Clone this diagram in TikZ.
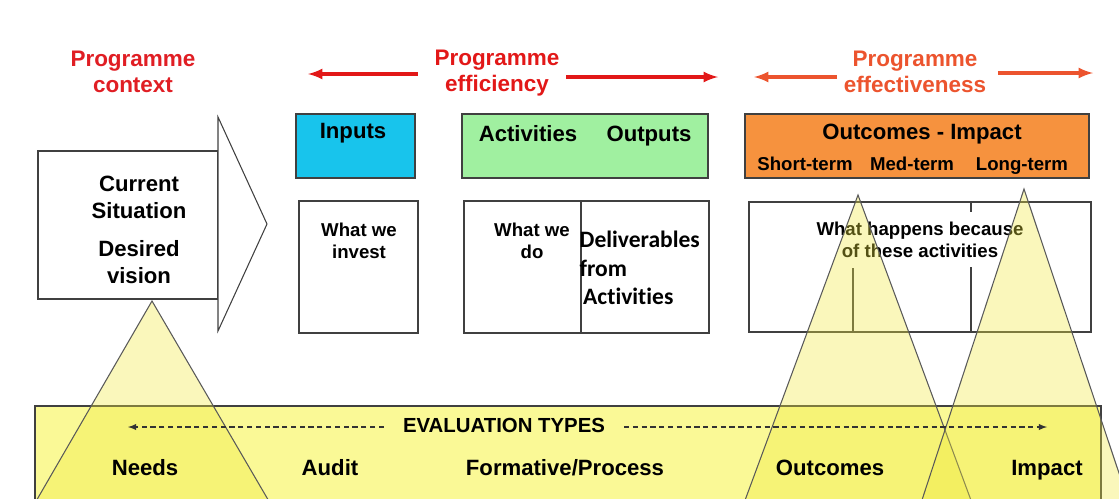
\documentclass[tikz,border=0pt]{standalone}
\usepackage{fontspec}
\setmainfont{Liberation Sans}
\newfontfamily\carlito[Ligatures=NoCommon]{Carlito}

\definecolor{ctxred}{RGB}{224,30,36}
\definecolor{effred}{RGB}{226,24,24}
\definecolor{effvred}{RGB}{236,84,46}
\definecolor{inblue}{RGB}{24,196,236}
\definecolor{actgreen}{RGB}{160,240,160}
\definecolor{outorange}{RGB}{246,146,62}
\definecolor{bandyellow}{RGB}{250,249,150}
\definecolor{coneyellow}{RGB}{240,232,60}

\begin{document}
\begin{tikzpicture}[x=0.02cm,y=-0.02cm,>=latex,thick,
    head/.style={align=center,font=\bfseries\fontsize{12.8}{15.2}\selectfont},
    big/.style={align=center,font=\bfseries\fontsize{12.6}{15.3}\selectfont},
    small/.style={align=center,font=\bfseries\fontsize{10.6}{12.5}\selectfont},
    line/.style={text height=1.6ex,text depth=0.4ex},
    frame/.style={draw=black!75,line width=0.6pt},
    redarrow/.style={->,line width=1.8pt},
    evalarrow/.style={->,draw=black!80,line width=0.6pt,dash pattern=on 3pt off 2pt},
    cone/.style={draw=black!65,line width=0.6pt,fill=coneyellow,fill opacity=0.35}]
  \useasboundingbox (0,0) rectangle (1119,498);

  % headings and their arrows
  \node[head,text=ctxred] (context) at (133,72) {Programme\\context};
  \node[head,text=effred] (efficiency) at (497,73) {Programme\\efficiency};
  \node[head,text=effvred] (effectiveness) at (915,72) {Programme\\effectiveness};
  \coordinate (effL) at (308,74);
  \coordinate (effR) at (718,77);
  \coordinate (efvL) at (754,77);
  \coordinate (efvR) at (1093,73);
  \draw[redarrow,effred,shorten <=2mm] (efficiency.west |- effL) -- (effL);
  \draw[redarrow,effred] (efficiency.east |- effR) -- (effR);
  \draw[redarrow,effvred] (effectiveness.west |- efvL) -- (efvL);
  \draw[redarrow,effvred,shorten <=1mm] (effectiveness.east |- efvR) -- (efvR);

  % current situation arrow
  \draw[frame,fill=white] (38,151) rectangle (218,299);
  \draw[frame,fill=white] (218,117) -- (267,224) -- (218,331) -- cycle;
  \node[big] (current) at (139,197) {Current\\Situation};
  \node[big] (vision) at (139,262) {Desired\\vision};

  % coloured headers
  \draw[frame,fill=inblue] (296,114) rectangle (415,178);
  \draw[frame,fill=actgreen] (462,114) rectangle (708,178);
  \draw[frame,fill=outorange] (745,114) rectangle (1089,178);
  \node[big,line] (inputs) at (353,133) {Inputs};
  \node[big,line] (activities) at (528,136) {Activities};
  \node[big,line] (outputs) at (649,136) {Outputs};
  \node[big,line] (outimpact) at (922,134) {Outcomes - Impact};
  \node[small,line] (short) at (805,165) {Short-term};
  \node[small,line] (med) at (912,165) {Med-term};
  \node[small,line] (long) at (1022,165) {Long-term};

  % white boxes underneath
  \draw[frame] (299,201) rectangle (418,333);
  \draw[frame] (464,201) rectangle (709,333);
  \draw[frame] (581,201) -- (581,333);
  \draw[frame] (749,202) rectangle (1091,332);
  \draw[frame] (853,268) -- (853,332);
  \draw[frame] (971,202) -- (971,212);
  \draw[frame] (971,267) -- (971,332);
  \node[small] (invest) at (359,241) {What we\\invest};
  \node[small] (do) at (532,241) {What we\\do};
  \node[anchor=west,align=left,inner sep=0pt,
        font=\carlito\bfseries\fontsize{13.4}{16.4}\selectfont]
        (deliver) at (579,268) {Deliverables\\from\\\hspace{2pt}Activities};
  \node[small] (happens) at (920,240) {What happens because\\of these activities};

  % evaluation band and cones
  \draw[frame,fill=bandyellow] (35,406) rectangle (1101,503);
  \draw[cone] (270,503) -- (152,301) -- (35,503);
  \draw[cone] (972,503) -- (858,195) -- (744,503);
  \draw[cone] (1129,503) -- (1024,189) -- (921,503);

  \node[line,font=\bfseries\fontsize{11.6}{14}\selectfont] (evaltypes) at (504,427) {EVALUATION TYPES};
  \coordinate (evalL) at (128,427);
  \coordinate (evalR) at (1047,427);
  \draw[evalarrow,shorten <=2.5mm] (evaltypes.west) -- (evalL);
  \draw[evalarrow,shorten <=2.5mm] (evaltypes.east) -- (evalR);

  \node[big,line] (needs) at (145,470) {Needs};
  \node[big,line] (audit) at (330,470) {Audit};
  \node[big,line] (formative) at (565,470) {Formative/Process};
  \node[big,line] (outcomes) at (830,470) {Outcomes};
  \node[big,line] (impact) at (1047,470) {Impact};
\end{tikzpicture}
\end{document}
